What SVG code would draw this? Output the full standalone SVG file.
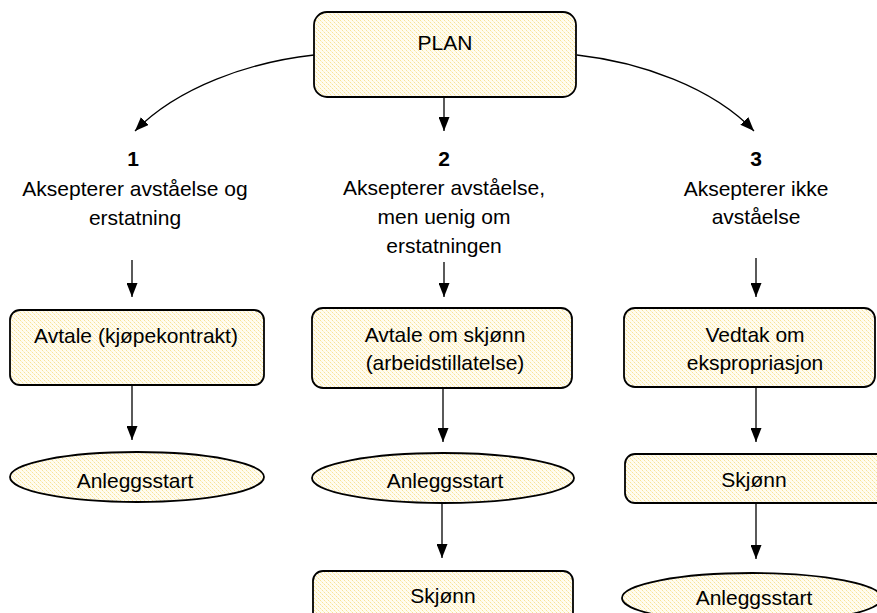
<svg xmlns="http://www.w3.org/2000/svg" width="877" height="613" viewBox="0 0 877 613">
<style>
.n{fill:url(#dither);stroke:#000;stroke-width:1.8}
.t{font-family:"Liberation Sans",Arial,sans-serif;font-size:21px;fill:#000;text-anchor:middle}
.b{font-weight:bold}
.c{fill:none;stroke:#000;stroke-width:1.3;marker-end:url(#ah)}
</style>
<defs>
<pattern id="dither" width="4" height="4" patternUnits="userSpaceOnUse">
<rect width="4" height="4" fill="#FFFCF0"/>
<rect x="0" y="0" width="1" height="1" fill="#F8E396"/>
<rect x="2" y="2" width="1" height="1" fill="#F8E396"/>
<rect x="1" y="1" width="1" height="1" fill="#FCF0C8"/>
<rect x="3" y="3" width="1" height="1" fill="#FCF0C8"/>
</pattern>
<marker id="ah" markerUnits="userSpaceOnUse" markerWidth="14" markerHeight="11" refX="14" refY="5.5" orient="auto">
<path d="M0,0 L14,5.5 L0,11 z" fill="#000"/>
</marker>
</defs>
<rect width="877" height="613" fill="#fff"/>
<g id="connectors">
<path class="c" d="M314,55 C250,62 178,87 135,131"/>
<path class="c" d="M444,97 L444,131"/>
<path class="c" d="M577,55 C640,62 712,87 754,131"/>
<path class="c" d="M132,260 L132,297"/>
<path class="c" d="M444,262 L444,297"/>
<path class="c" d="M756,258 L756,297"/>
<path class="c" d="M132,385 L132,440"/>
<path class="c" d="M443,388 L443,442"/>
<path class="c" d="M756,387 L756,442"/>
<path class="c" d="M442,503 L442,558"/>
<path class="c" d="M756,503 L756,559"/>
</g>
<g id="plan">
<rect class="n" x="314" y="12" width="262" height="85" rx="13"/>
<text class="t" x="445" y="50">PLAN</text>
</g>
<g id="label1">
<text class="t b" x="133" y="166">1</text>
<text class="t" x="135" y="196">Aksepterer avståelse og</text>
<text class="t" x="135" y="225">erstatning</text>
</g>
<g id="label2">
<text class="t b" x="444" y="166">2</text>
<text class="t" x="444" y="195">Aksepterer avståelse,</text>
<text class="t" x="444" y="224">men uenig om</text>
<text class="t" x="444" y="253">erstatningen</text>
</g>
<g id="label3">
<text class="t b" x="756" y="166">3</text>
<text class="t" x="756" y="196">Aksepterer ikke</text>
<text class="t" x="756" y="224">avståelse</text>
</g>
<g id="avtale1">
<rect class="n" x="10" y="310" width="254" height="75" rx="10"/>
<text class="t" x="136" y="343">Avtale (kjøpekontrakt)</text>
</g>
<g id="anlegg1">
<ellipse class="n" cx="137" cy="477" rx="127" ry="25"/>
<text class="t" x="135" y="488">Anleggsstart</text>
</g>
<g id="avtale2">
<rect class="n" x="312" y="308" width="260" height="80" rx="11"/>
<text class="t" x="445" y="342">Avtale om skjønn</text>
<text class="t" x="445" y="370">(arbeidstillatelse)</text>
</g>
<g id="anlegg2">
<ellipse class="n" cx="443" cy="478" rx="131" ry="25"/>
<text class="t" x="445" y="488">Anleggsstart</text>
</g>
<g id="skjonn2">
<rect class="n" x="313" y="571" width="260" height="60" rx="10"/>
<text class="t" x="443" y="603">Skjønn</text>
</g>
<g id="vedtak3">
<rect class="n" x="624" y="308" width="251" height="79" rx="11"/>
<text class="t" x="755" y="342">Vedtak om</text>
<text class="t" x="755" y="370">ekspropriasjon</text>
</g>
<g id="skjonn3">
<rect class="n" x="625" y="454" width="270" height="49" rx="10"/>
<text class="t" x="754" y="487">Skjønn</text>
</g>
<g id="anlegg3">
<ellipse class="n" cx="752" cy="598" rx="130" ry="25"/>
<text class="t" x="754" y="605">Anleggsstart</text>
</g>
</svg>
